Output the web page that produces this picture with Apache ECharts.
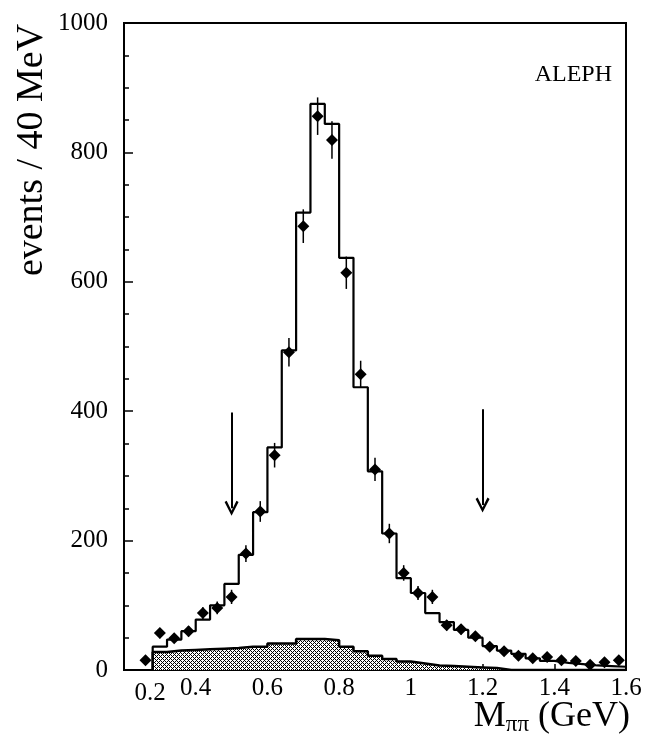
<!DOCTYPE html>
<html>
<head>
<meta charset="utf-8">
<script src="https://cdn.jsdelivr.net/npm/echarts@6/dist/echarts.min.js"></script>
<style>
  html, body { margin: 0; padding: 0; background: #fff; }
  #chart { width: 646px; height: 743px; }
</style>
</head>
<body>
<div id="chart"></div>
<script>
  // left edges of the 40 MeV bins
  const binLow = [0.28, 0.32, 0.36, 0.40, 0.44, 0.48, 0.52, 0.56, 0.60, 0.64,
                  0.68, 0.72, 0.76, 0.80, 0.84, 0.88, 0.92, 0.96, 1.00, 1.04,
                  1.08, 1.12, 1.16, 1.20, 1.24, 1.28, 1.32, 1.36, 1.40, 1.44,
                  1.48, 1.52, 1.56]
  const binWidth = 0.04
  // simulation (open histogram)
  const mcCounts = [36, 47, 60, 78, 100, 133, 178, 244, 344, 494,
                    707, 875, 844, 637, 437, 307, 211, 142, 119, 88,
                    74, 62, 50, 37, 30, 25, 18, 14, 11, 9,
                    7, 6, 5]
  // background (shaded histogram)
  const bgCounts = [28, 30, 31, 32, 33, 34, 36, 36, 41, 41,
                    48, 48, 46, 36, 29, 22, 17, 13, 10, 7,
                    6, 5, 4, 3, 0, 0, 0, 0, 0, 0,
                    0, 0, 0]
  // data points
  const dataX = [0.26, 0.30, 0.34, 0.38, 0.42, 0.46, 0.50, 0.54, 0.58, 0.62,
                 0.66, 0.70, 0.74, 0.78, 0.82, 0.86, 0.90, 0.94, 0.98, 1.02,
                 1.06, 1.10, 1.14, 1.18, 1.22, 1.26, 1.30, 1.34, 1.38, 1.42,
                 1.46, 1.50, 1.54, 1.58]
  const dataY = [15, 57, 49, 60, 88, 96, 113, 180, 245, 332,
                 491, 686, 856, 819, 614, 457, 310, 211, 150, 119,
                 113, 69, 63, 52, 36, 29, 22, 18, 20, 15,
                 14, 8, 12, 15]
  const dataErr = [7, 8, 7, 8, 9, 10, 11, 13, 16, 19,
                   22, 26, 29, 29, 25, 21, 18, 15, 12, 11,
                   11, 8, 8, 7, 6, 5, 5, 4, 4, 4,
                   4, 3, 3, 4]
  // cut arrows
  const arrowX = [0.5, 1.2]
  const arrowFrom = [398, 403]
  const arrowTo = [250, 255]

  const xTicks = { min: 0.2, max: 1.6, interval: 0.2 }
  const yTicks = { min: 0, max: 1000, interval: 200 }

  const font = 'Liberation Serif'

  function hatch() {
    const c = document.createElement('canvas')
    c.width = 4
    c.height = 4
    const g = c.getContext('2d')
    g.fillStyle = '#fff'
    g.fillRect(0, 0, 4, 4)
    g.fillStyle = '#000'
    for (let y = 0; y < 4; y++) {
      for (let x = 0; x < 4; x++) {
        if ((x + y) % 4 === 0 || (x - y + 4) % 4 === 0) g.fillRect(x, y, 1, 1)
      }
    }
    return c
  }

  function steps(counts) {
    const pts = [[binLow[0], 0]]
    counts.forEach((v, i) => pts.push([binLow[i], v]))
    const last = binLow.length - 1
    pts.push([binLow[last] + binWidth, counts[last]])
    return pts
  }

  const chart = echarts.init(document.getElementById('chart'))

  chart.setOption({
    animation: false,
    backgroundColor: '#fff',
    grid: {
      left: 124,
      right: 20,
      top: 23,
      bottom: 73,
      show: true,
      borderColor: '#000',
      borderWidth: 2
    },
    xAxis: {
      type: 'value',
      min: xTicks.min,
      max: xTicks.max,
      interval: xTicks.interval,
      axisLine: { show: true, lineStyle: { color: '#000', width: 2 } },
      axisTick: { show: true, inside: true, length: 6, lineStyle: { color: '#000', width: 1.5 } },
      splitLine: { show: false },
      axisLabel: {
        margin: 6,
        color: '#000',
        fontFamily: font,
        fontSize: 25,
        formatter: function (v) {
          const s = String(+v.toFixed(1))
          return v <= xTicks.min + 1e-9 ? '{first|' + s + '}' : s
        },
        rich: {
          first: { fontFamily: font, fontSize: 25, color: '#000', padding: [5, 0, 0, 52] }
        }
      }
    },
    yAxis: {
      type: 'value',
      min: yTicks.min,
      max: yTicks.max,
      interval: yTicks.interval,
      axisLine: { show: true, lineStyle: { color: '#000', width: 2 } },
      axisTick: { show: true, inside: true, length: 9, lineStyle: { color: '#000', width: 1.5 } },
      minorTick: { show: true, splitNumber: 4, length: 5, lineStyle: { color: '#000', width: 1.5 } },
      splitLine: { show: false },
      axisLabel: {
        margin: 16,
        color: '#000',
        fontFamily: font,
        fontSize: 25,
        formatter: function (v) { return String(v) }
      }
    },
    graphic: [
      {
        type: 'text',
        x: 32,
        y: 150,
        rotation: Math.PI / 2,
        style: {
          text: 'events / 40 MeV',
          fontFamily: font,
          fontSize: 38,
          fill: '#000',
          align: 'center',
          verticalAlign: 'middle'
        }
      },
      {
        type: 'text',
        x: 612,
        y: 75,
        style: {
          text: 'ALEPH',
          fontFamily: font,
          fontSize: 24,
          fill: '#000',
          align: 'right',
          verticalAlign: 'middle'
        }
      },
      {
        type: 'text',
        x: 630,
        y: 717,
        style: {
          text: '{m|M}{s|ππ}{g| (GeV)}',
          align: 'right',
          verticalAlign: 'middle',
          rich: {
            m: { fontFamily: font, fontSize: 36, fill: '#000' },
            s: { fontFamily: font, fontSize: 23, fill: '#000', padding: [16, 0, 0, 0] },
            g: { fontFamily: font, fontSize: 36, fill: '#000' }
          }
        }
      }
    ],
    series: [
      {
        name: 'background',
        type: 'line',
        step: 'end',
        symbol: 'none',
        data: steps(bgCounts),
        lineStyle: { color: '#000', width: 2.5 },
        areaStyle: { color: { image: hatch(), repeat: 'repeat' }, opacity: 1 },
        z: 2
      },
      {
        name: 'simulation',
        type: 'line',
        step: 'end',
        symbol: 'none',
        data: steps(mcCounts),
        lineStyle: { color: '#000', width: 2.2 },
        z: 3,
        markLine: {
          silent: true,
          symbol: ['none', 'path://M0,10 L6,0 L12,10 L10.2,11 L6,3.6 L1.8,11 Z'],
          symbolSize: [14, 15],
          label: { show: false },
          lineStyle: { color: '#000', width: 2, type: 'solid' },
          data: arrowX.map((x, i) => [
            { coord: [x, arrowFrom[i]] },
            { coord: [x, arrowTo[i]] }
          ])
        }
      },
      {
        name: 'errors',
        type: 'custom',
        data: dataX.map((x, i) => [x, dataY[i], dataErr[i]]),
        encode: { x: 0, y: 1 },
        renderItem: function (params, api) {
          const x = api.value(0)
          const y = api.value(1)
          const e = api.value(2)
          const p1 = api.coord([x, Math.max(0, y - e)])
          const p2 = api.coord([x, y + e])
          return {
            type: 'line',
            shape: { x1: p1[0], y1: p1[1], x2: p2[0], y2: p2[1] },
            style: { stroke: '#000', lineWidth: 1.5 }
          }
        },
        z: 4
      },
      {
        name: 'data',
        type: 'scatter',
        symbol: 'diamond',
        symbolSize: [12, 12],
        itemStyle: { color: '#000', opacity: 1 },
        data: dataX.map((x, i) => [x, dataY[i]]),
        z: 5
      }
    ]
  })
</script>
</body>
</html>
